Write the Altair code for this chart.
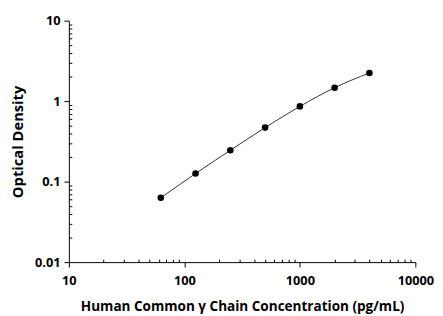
import altair as alt
import pandas as pd

conc = [62.5, 125, 250, 500, 1000, 2000, 4000]
od = [0.063, 0.126, 0.245, 0.469, 0.86, 1.47, 2.24]
x_major = [10, 100, 1000, 10000]
y_major = [0.01, 0.1, 1, 10]
x_minor = [m * d for d in [10, 100, 1000] for m in range(2, 10)]
y_minor = [m * d for d in [0.01, 0.1, 1] for m in range(2, 10)]

df = pd.DataFrame({"conc": conc, "od": od})
FONT = "Open Sans"

xs = alt.Scale(type="log", domain=[10, 10000])
ys = alt.Scale(type="log", domain=[0.01, 10])

common_axis = dict(domainColor="black", tickColor="black", domainWidth=1, tickWidth=1,
                   grid=False, labelFont=FONT, labelFontWeight="bold", labelFontSize=13,
                   labelColor="black", titleFont=FONT, titleFontWeight="bold",
                   titleColor="black")

line = alt.Chart(df).mark_line(color="#333333", strokeWidth=1, interpolate="monotone").encode(
    x=alt.X("conc:Q", scale=xs, axis=alt.Axis(values=x_major, format="d", tickSize=5,
            orient="bottom", labelPadding=8, title="Human Common γ Chain Concentration (pg/mL)",
            titlePadding=12, titleFontSize=13.8, labelFlush=False, **common_axis)),
    y=alt.Y("od:Q", scale=ys, axis=alt.Axis(values=y_major, format="~g", tickSize=5,
            orient="left", labelPadding=4, title="Optical Density", titlePadding=9,
            titleFontSize=15, labelFlush=False, **common_axis)),
)
pts = alt.Chart(df).mark_circle(color="black", opacity=1, size=45).encode(
    x=alt.X("conc:Q", scale=xs, axis=None),
    y=alt.Y("od:Q", scale=ys, axis=None),
)

minor_df = pd.DataFrame({"xm": x_minor[:len(y_minor)], "ym": y_minor})
minor = alt.Chart(minor_df).mark_point(opacity=0).encode(
    x=alt.X("xm:Q", scale=xs, axis=alt.Axis(values=x_minor, labels=False, domain=False,
            tickSize=3, offset=-3, title=None, orient="bottom", tickColor="black", grid=False)),
    y=alt.Y("ym:Q", scale=ys, axis=alt.Axis(values=y_minor, labels=False, domain=False,
            tickSize=3, offset=-3, title=None, orient="left", tickColor="black", grid=False)),
)

chart = alt.layer(line, pts, minor).resolve_axis(x="independent", y="independent").properties(
    width=353, height=246,
    padding={"left": 62, "top": 10, "right": 20, "bottom": 52},
    autosize=alt.AutoSizeParams(type="none"),
).configure_view(stroke=None)

chart.save("out.html", embed_options={"renderer": "svg", "actions": False})
